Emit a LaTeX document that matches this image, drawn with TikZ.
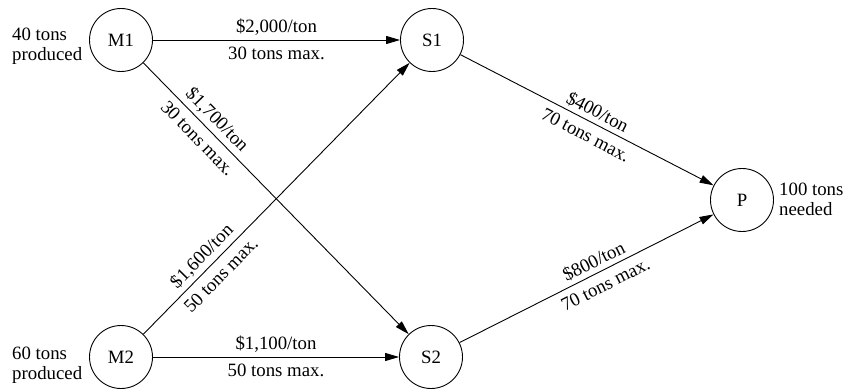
\documentclass[tikz,border=0pt]{standalone}
\usepackage{fontspec}
\setmainfont{Liberation Serif}
\usetikzlibrary{arrows.meta}
\begin{document}
\begin{tikzpicture}[x=1pt,y=-1pt,
  every node/.style={font=\fontsize{18.8}{20}\selectfont},
  station/.style={circle, draw, line width=0.9pt, minimum size=63pt, inner sep=0pt},
  flow/.style={line width=0.9pt, -{Triangle[length=14pt,width=8pt]}},
  costlbl/.style={above, sloped, inner sep=4pt},
  caplbl/.style={below, sloped, inner sep=7pt},
  side/.style={align=left, inner sep=0pt, anchor=north west}]
\useasboundingbox (0,0) rectangle (846,390);
\node[station] (M1) at (121,40) {M1};
\node[station] (S1) at (432,40) {S1};
\node[station] (M2) at (121,357) {M2};
\node[station] (S2) at (431,357) {S2};
\node[station] (P) at (742,200) {P};
\node[side] (m1note) at (12,28) {40 tons\\produced};
\node[side] (m2note) at (12,347) {60 tons\\produced};
\node[side] (pnote) at (779,183) {100 tons\\needed};
\draw[flow] (M1) -- node[costlbl]{\$2,000/ton} node[caplbl]{30 tons max.} (S1);
\draw[flow] (M1) -- node[costlbl,pos=0.243]{\$1,700/ton} node[caplbl,pos=0.243]{30 tons max.} (S2);
\draw[flow] (M2) -- node[costlbl,pos=0.254]{\$1,600/ton} node[caplbl,pos=0.254]{50 tons max.} (S1);
\draw[flow] (M2) -- node[costlbl]{\$1,100/ton} node[caplbl]{50 tons max.} (S2);
\draw[flow] (S1) -- node[costlbl,pos=0.52]{\$400/ton} node[caplbl,pos=0.52]{70 tons max.} (P);
\draw[flow] (S2) -- node[costlbl,pos=0.55]{\$800/ton} node[caplbl,pos=0.55]{70 tons max.} (P);
\end{tikzpicture}
\end{document}
